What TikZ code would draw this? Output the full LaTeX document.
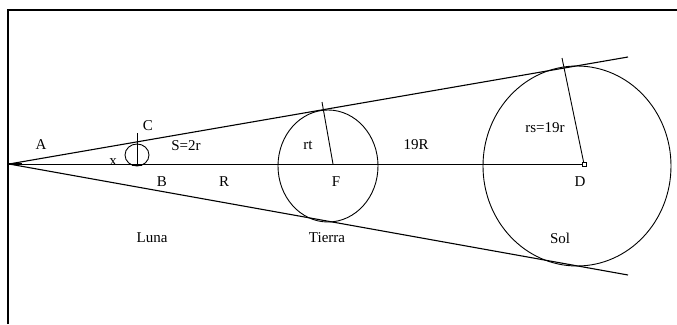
\documentclass[tikz,border=0pt]{standalone}
\usepackage{fontspec}
\setmainfont{Liberation Serif}
\begin{document}
\begin{tikzpicture}[x=1pt,y=-1pt,every node/.style={font=\fontsize{15}{17}\selectfont,inner sep=0pt}]
% Sombra: Luna, Tierra y Sol sobre el eje A--D
\useasboundingbox (0,0) rectangle (677,324);
\draw[line width=1.8pt] (8,324) -- (8,10) -- (677,10);
\coordinate (A) at (9,164);
\coordinate (upend) at (628,57);
\coordinate (lowend) at (628,275);
\coordinate (F) at (333,164);
\coordinate (D) at (584,164);
\coordinate (rtend) at (322,102);
\coordinate (rsend) at (562,58);
\coordinate (mtop) at (137,133);
\coordinate (mbase) at (137,165);
\draw[line width=1.1pt] (A) -- (upend);
\draw[line width=1.1pt] (A) -- (lowend);
\draw[line width=0.9pt] (A) -- (D);
\draw[line width=0.9pt] (328,166) ellipse [x radius=50,y radius=56];
\draw[line width=0.9pt] (577,166) ellipse [x radius=94,y radius=100];
\draw[line width=0.9pt] (137,155) ellipse [x radius=12,y radius=11];
\draw[line width=0.9pt] (F) -- (rtend);
\draw[line width=0.9pt] (D) -- (rsend);
\draw[line width=0.9pt] (mtop) -- (mbase);
\draw[line width=1.6pt] (132,165) -- (142,165);
\draw[line width=1.6pt] (9,164) -- (22,164);
\draw[line width=0.6pt,fill=white] (582,162) rectangle (586,166);
\node (lblA) at (41,145) {A};
\node (lblC) at (148,126) {C};
\node (lblS) at (186,146) {S=2r};
\node (lblx) at (113,162) {x};
\node (lblB) at (162,182) {B};
\node (lblR) at (224,182) {R};
\node (lblrt) at (308,145) {rt};
\node (lbl19R) at (416,145) {19R};
\node (lblF) at (336,182) {F};
\node (lblrs) at (545,128) {rs=19r};
\node (lblD) at (580,182) {D};
\node (luna) at (152,238) {Luna};
\node (tierra) at (327,238) {Tierra};
\node (sol) at (560,238) {Sol};
\end{tikzpicture}
\end{document}
